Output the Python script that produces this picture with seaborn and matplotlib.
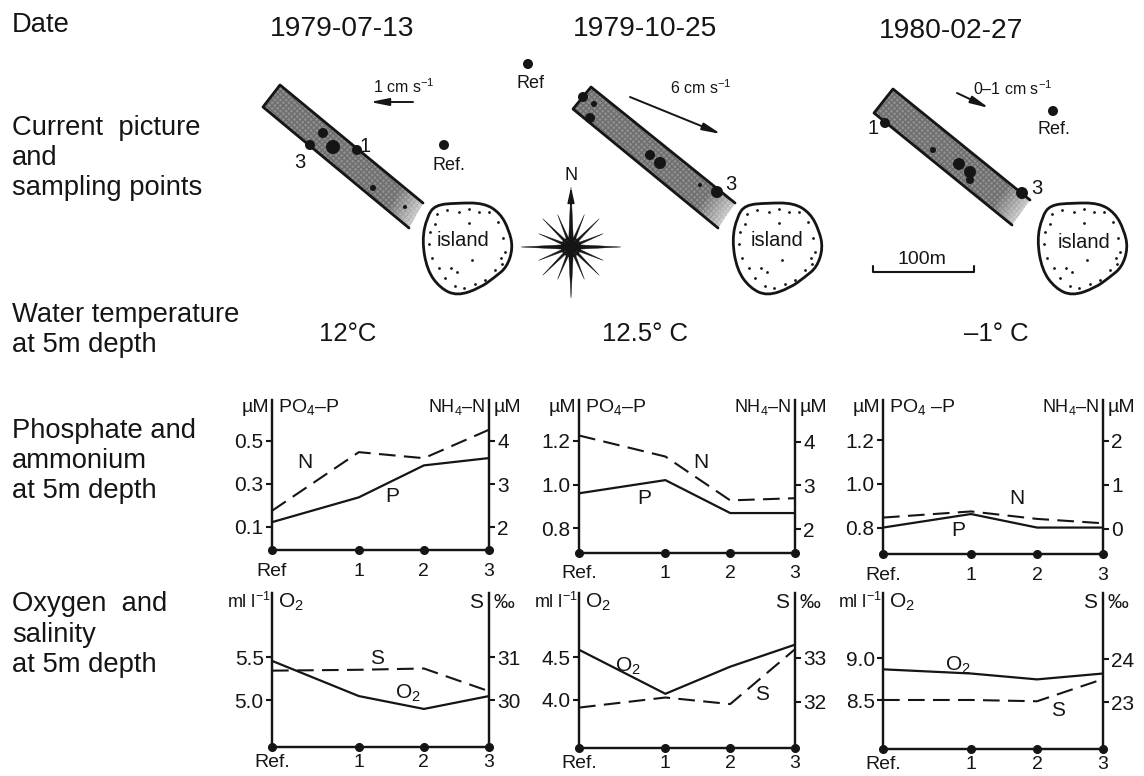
import numpy as np
import matplotlib
matplotlib.use("Agg")
import matplotlib.pyplot as plt
from matplotlib.patches import Polygon, Circle, PathPatch
from matplotlib.path import Path
import seaborn as sns

W, H = 1144, 776

# station positions along the transect (fraction of axis width)
stations = [0.0, 0.4, 0.7, 1.0]
top_labels = [["Ref", "1", "2", "3"], ["Ref.", "1", "2", "3"], ["Ref.", "1", "2", "3"]]
bottom_labels = ["Ref.", "1", "2", "3"]

# phosphate (uM) and ammonium (uM) at 5 m
po4 = [[0.122, 0.237, 0.385, 0.419], [0.96, 1.02, 0.87, 0.87], [0.80, 0.862, 0.80, 0.80]]
nh4 = [[2.38, 3.74, 3.60, 4.26], [4.14, 3.66, 2.66, 2.71], [0.25, 0.39, 0.22, 0.12]]
# oxygen (ml/l) and salinity (permille) at 5 m
o2 = [[5.46, 5.05, 4.90, 5.05], [4.59, 4.07, 4.39, 4.65], [8.87, 8.82, 8.75, 8.82]]
sal = [[30.69, 30.71, 30.74, 30.21], [31.87, 32.10, 31.95, 33.20], [23.05, 23.05, 23.02, 23.54]]

po4_ticks = [[0.1, 0.3, 0.5], [0.8, 1.0, 1.2], [0.8, 1.0, 1.2]]
nh4_ticks = [[2, 3, 4], [2, 3, 4], [0, 1, 2]]
o2_ticks = [[5.0, 5.5], [4.0, 4.5], [8.5, 9.0]]
sal_ticks = [[30, 31], [32, 33], [23, 24]]

po4_lim = [(-0.007, 0.688), (0.688, 1.385), (0.679, 1.384)]
nh4_lim = [(1.47, 4.95), (1.46, 4.95), (-0.58, 2.93)]
o2_lim = [(4.457, 6.25), (3.43, 5.26), (7.92, 9.78)]
sal_lim = [(28.91, 32.5), (30.95, 34.48), (21.9, 25.56)]

dates = ["1979-07-13", "1979-10-25", "1980-02-27"]
temps = ["12°C", "12.5° C", "–1° C"]
speeds = ["1 cm s$^{-1}$", "6 cm s$^{-1}$", "0–1 cm s$^{-1}$"]

sns.set_style("ticks")
plt.rcParams["font.family"] = ["Liberation Sans", "DejaVu Sans"]
plt.rcParams["mathtext.fontset"] = "custom"
plt.rcParams["mathtext.rm"] = "Liberation Sans"
plt.rcParams["mathtext.default"] = "regular"
INK = "#151515"

fig = plt.figure(figsize=(W / 100, H / 100), dpi=100, facecolor="white")


def panel(box, y1, y2, ticks1, ticks2, lim1, lim2, labels, xpad):
    left, right, top, bottom = box
    ax = fig.add_axes([left / W, 1 - bottom / H, (right - left) / W, (bottom - top) / H])
    ax.patch.set_alpha(0)
    sns.lineplot(x=stations, y=y1, ax=ax, color=INK, lw=1.6, errorbar=None)
    ax2 = ax.twinx()
    sns.lineplot(x=stations, y=y2, ax=ax2, color=INK, lw=1.5, errorbar=None, linestyle=(0, (8, 4)))
    ax.set_xlim(0, 1)
    ax.set_ylim(*lim1)
    ax2.set_ylim(*lim2)
    ax.set_xticks(stations, labels)
    ax.set_yticks(ticks1, [f"{t:.1f}" for t in ticks1])
    ax2.set_yticks(ticks2, [str(t) for t in ticks2])
    ax.tick_params(axis="x", length=0, pad=xpad, labelsize=14, colors=INK)
    ax.tick_params(axis="y", length=4, width=1.5, pad=2, labelsize=15, colors=INK)
    ax2.tick_params(axis="y", length=4, width=1.5, pad=2, labelsize=15, colors=INK)
    for a in (ax, ax2):
        a.spines["top"].set_visible(False)
        for s in ("left", "right", "bottom"):
            a.spines[s].set_linewidth(1.6)
            a.spines[s].set_color(INK)
    ax2.plot(stations, [lim2[0]] * 4, "o", color=INK, ms=5.5, clip_on=False, zorder=5)


boxes_top = [(272, 489, 400, 550), (579, 795, 400, 553), (883, 1103, 400, 554)]
boxes_bottom = [(272, 489, 593, 747), (579, 795, 593, 748), (883, 1103, 593, 749)]
for i in range(3):
    panel(boxes_top[i], po4[i], nh4[i], po4_ticks[i], nh4_ticks[i], po4_lim[i], nh4_lim[i], top_labels[i], 9)
    panel(boxes_bottom[i], o2[i], sal[i], o2_ticks[i], sal_ticks[i], o2_lim[i], sal_lim[i], bottom_labels, 5)

# overlay in pixel coordinates for the sketch maps and free text
ov = fig.add_axes([0, 0, 1, 1], zorder=10)
ov.set_xlim(0, W)
ov.set_ylim(H, 0)
ov.axis("off")


def txt(x, y, s, size=19.7, ha="center", **kw):
    ov.text(x, y, s, fontsize=size, ha=ha, va="center", color=INK, **kw)


side_labels = [
    (12, 25, "Date"), (12, 128, "Current  picture"), (12, 158, "and"), (12, 188, "sampling points"),
    (12, 315, "Water temperature"), (12, 345, "at 5m depth"),
    (12, 431, "Phosphate and"), (12, 461, "ammonium"), (12, 491, "at 5m depth"),
    (12, 604, "Oxygen  and"), (12, 635, "salinity"), (12, 665, "at 5m depth"),
]
for x, y, s in side_labels:
    txt(x, y, s, ha="left")

for x, y, s in zip([342, 645, 951], [29, 29, 31], dates):
    txt(x, y, s, size=20.3)
for x, s in zip([348, 645, 996], temps):
    txt(x, 334, s, size=18.5)

# panel headers
for (l, r, *_), third in zip(boxes_top, [False, False, True]):
    txt(l - 3, 407, "µM", size=14, ha="right")
    txt(l + 6, 407, "PO$_4$ –P" if third else "PO$_4$–P", size=14, ha="left")
    txt(r - 4, 407, "NH$_4$–N", size=13, ha="right")
    txt(r + 5, 407, "µM", size=14, ha="left")
for l, r, *_ in boxes_bottom:
    txt(l - 1, 602, "ml l$^{-1}$", size=13, ha="right")
    txt(l + 6, 602, "O$_2$", size=15, ha="left")
    txt(r - 6, 602, "S", size=15, ha="right")
    txt(r + 5, 602, "‰", size=15, ha="left")

series_labels = [
    (305, 462, "N"), (392, 497, "P"), (377, 658, "S"), (408, 693, "O$_2$"),
    (701, 463, "N"), (644, 498, "P"), (628, 666, "O$_2$"), (762, 694, "S"),
    (1017, 499, "N"), (958, 531, "P"), (958, 665, "O$_2$"), (1058, 711, "S"),
]
for x, y, s in series_labels:
    txt(x, y, s, size=15)


def strip(a, b, c, d):
    a, b, c, d = map(np.array, (a, b, c, d))
    ov.add_patch(Polygon([a, c, d, b], fc="#8f8f8f", ec="#6e6e6e", hatch="xxxxxx", lw=0, zorder=2))
    # fade out towards the island end
    for k in range(8):
        t0, t1 = 0.86 + k * 0.02, 0.88 + k * 0.02
        q = [a + (c - a) * t0, a + (c - a) * t1, b + (d - b) * t1, b + (d - b) * t0]
        ov.add_patch(Polygon(q, fc="white", ec="none", alpha=0.1 + k * 0.08, zorder=3))
    ov.plot([c[0], a[0], b[0], d[0]], [c[1], a[1], b[1], d[1]], color=INK, lw=2, zorder=4)


strip((280, 85), (263, 107), (423, 203), (409, 228))
strip((591, 87), (573, 109), (735, 203), (718, 228))
strip((893, 89), (874, 113), (1030, 200), (1012, 225))

blobs = [
    (310, 145, 5), (357, 150, 5), (333, 147, 7), (323, 133, 5), (373, 188, 3), (405, 207, 2),
    (717, 192, 6), (650, 155, 5), (660, 163, 6), (583, 97, 5), (590, 118, 5), (594, 104, 3), (700, 185, 2),
    (885, 123, 5), (1022, 193, 6), (959, 164, 6), (970, 172, 6), (970, 180, 4), (933, 150, 3),
]
for x, y, r in blobs:
    ov.add_patch(Circle((x, y), r, fc=INK, ec="none", zorder=5))

for x, y, rx, ry, s in [(444, 145, 449, 165, "Ref."), (528, 64, 530, 83, "Ref"), (1053, 111, 1054, 129, "Ref.")]:
    ov.add_patch(Circle((x, y), 5, fc=INK, ec="none", zorder=5))
    txt(rx, ry, s, size=13)

for x, y, s in [(365, 147, "1"), (300, 163, "3"), (731, 184, "3"), (873, 129, "1"), (1037, 188, "3")]:
    txt(x, y, s, size=14.5, zorder=6)

# island outline, offsets from its centre
outline = np.array([(-32, -45), (-10, -47), (17, -47), (33, -37), (42, -20), (46, -2), (40, 17),
                    (28, 27), (13, 38), (-10, 46), (-27, 38), (-40, 20), (-45, -10), (-40, -33)], float)
stipple = [(-30, -36), (-20, -40), (-8, -38), (2, -41), (12, -38), (22, -38), (31, -28), (36, -12),
           (38, 2), (35, 14), (28, 20), (34, 8), (18, 30), (8, 34), (-3, 38), (-12, 36), (-22, 28),
           (-28, 18), (-35, 8), (-38, -6), (-37, -18), (-32, -26), (2, -27), (5, 10), (-10, 22), (-16, 18)]
for cx, cy, lx, ly in [(467, 250, 463, 240), (777, 250, 777, 241), (1082, 250, 1084, 243)]:
    pts = outline + (cx, cy)
    mids = (pts + np.roll(pts, -1, axis=0)) / 2
    verts = [mids[-1]]
    codes = [Path.MOVETO]
    for p, m in zip(pts, mids):
        verts += [p, m]
        codes += [Path.CURVE3, Path.CURVE3]
    ov.add_patch(PathPatch(Path(verts, codes), fc="white", ec=INK, lw=2, zorder=2))
    sx, sy = zip(*stipple)
    ov.scatter(np.array(sx) + cx, np.array(sy) + cy, s=4, color=INK, lw=0, zorder=3)
    txt(lx, ly, "island", size=14.5, zorder=4)

# current arrows and speeds
for (x0, y0, x1, y1), (tx, ty), s in zip(
    [(413, 102, 370, 102), (630, 97, 721, 134), (957, 93, 989, 108)],
    [(404, 87), (701, 88), (1013, 89)], speeds):
    ov.annotate("", xy=(x1, y1), xytext=(x0, y0),
                arrowprops=dict(arrowstyle="-|>,head_length=1.1,head_width=0.22", color=INK, lw=1.4, shrinkA=0, shrinkB=0))
    txt(tx, ty, s, size=11.5)

# compass
cx, cy = 571, 247
for k in range(16):
    ang = k * np.pi / 8
    r = 50 if k % 4 == 0 else (40 if k % 4 == 2 else 35)
    if k == 0:
        r = 60
    if k == 8:
        r = 51
    u = np.array((np.sin(ang), -np.cos(ang)))
    n = np.array((u[1], -u[0]))
    c = np.array((cx, cy))
    base = 2.6 if k % 4 == 0 else 1.6
    ov.add_patch(Polygon([c + n * base, c + u * r, c - n * base], fc=INK, ec=INK, lw=0.3, zorder=3))
ov.add_patch(Circle((cx, cy), 9, fc="none", ec=INK, lw=1.5, zorder=4))
ov.add_patch(Circle((cx, cy), 5, fc=INK, ec="none", zorder=4))
ov.annotate("", xy=(cx, cy - 60), xytext=(cx, cy - 42),
            arrowprops=dict(arrowstyle="-|>,head_length=0.9,head_width=0.2", color=INK, lw=1.2, shrinkA=0, shrinkB=0))
txt(cx, 175, "N", size=13)

# scale bar
ov.plot([873, 873, 974, 974], [266, 272, 272, 266], color=INK, lw=1.5)
txt(922, 259, "100m", size=14)

fig.savefig("out.png", dpi=100)
